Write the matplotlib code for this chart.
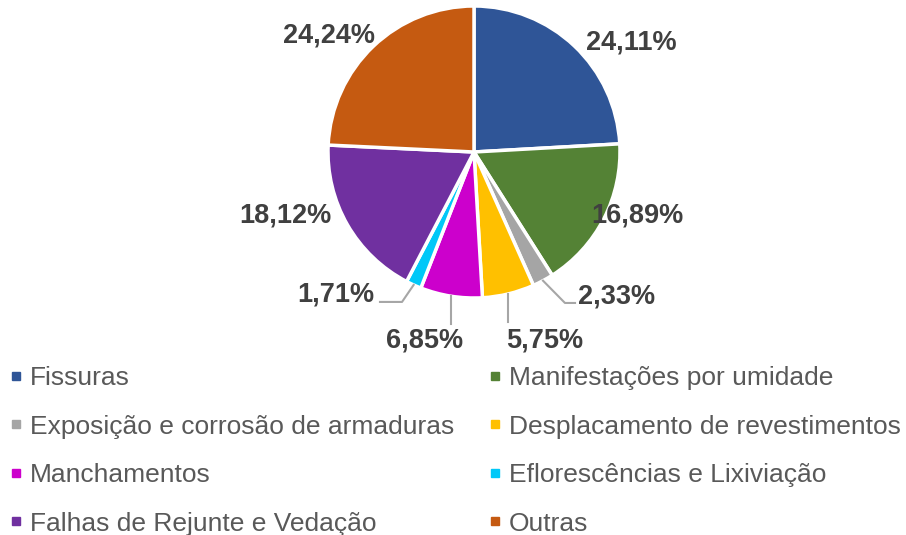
import matplotlib
matplotlib.use('Agg')
import matplotlib.pyplot as plt
from matplotlib.lines import Line2D
import numpy as np

plt.rcParams['font.family'] = ['Liberation Sans', 'DejaVu Sans']

# dados
categorias = ['Fissuras', 'Manifestações por umidade', 'Exposição e corrosão de armaduras',
              'Desplacamento de revestimentos', 'Manchamentos', 'Eflorescências e Lixiviação',
              'Falhas de Rejunte e Vedação', 'Outras']
valores = [24.11, 16.89, 2.33, 5.75, 6.85, 1.71, 18.12, 24.24]
cores = ['#2F5597', '#548235', '#A5A5A5', '#FFC000', '#CC00CC', '#00C8F8', '#7030A0', '#C55A11']

# posição dos rótulos (unidades do raio) e pontas das linhas de chamada
pos_rotulos = [(1.075, 0.753), (1.116, -0.432), (0.979, -0.993), (0.486, -1.288),
               (-0.342, -1.288), (-0.945, -0.979), (-1.295, -0.432), (-0.993, 0.801)]
chamadas = {2: [(0.623, -1.034), (0.692, -1.034)],
            3: [(None, -1.164)],
            4: [(None, -1.178)],
            5: [(-0.493, -1.027), (-0.644, -1.027)]}

W, H = 906, 535
fig = plt.figure(figsize=(W / 100, H / 100), dpi=100)
cx, cy, r = 474, 152, 146
ax = fig.add_axes([(cx - r) / W, (H - cy - r) / H, 2 * r / W, 2 * r / H])
ax.pie(valores, colors=cores, startangle=90, counterclock=False, radius=1,
       wedgeprops=dict(edgecolor='white', linewidth=2.5))
ax.set_xlim(-1, 1)
ax.set_ylim(-1, 1)
ax.set_aspect('equal')
ax.axis('off')

tot = sum(valores)
acum = np.cumsum([0] + valores[:-1])
for i, v in enumerate(valores):
    txt = f'{v:.2f}%'.replace('.', ',')
    x, y = pos_rotulos[i]
    ax.text(x, y, txt, ha='center', va='center', fontsize=19.5, fontweight='bold',
            color='#404040', clip_on=False)
    if i in chamadas:
        ang = np.deg2rad(90 - (acum[i] + v / 2) / tot * 360)
        x0, y0 = np.cos(ang), np.sin(ang)
        xs, ys = [x0], [y0]
        for px, py in chamadas[i]:
            xs.append(x0 if px is None else px)
            ys.append(py)
        ax.plot(xs, ys, color='#A6A6A6', lw=1.5, clip_on=False)

# legenda em duas colunas (ordem por linha)
ordem = [0, 2, 4, 6, 1, 3, 5, 7]
handles = [Line2D([], [], marker='s', linestyle='none', markersize=6,
                  markerfacecolor=cores[k], markeredgecolor=cores[k]) for k in ordem]
labels = [categorias[k] for k in ordem]
fig.legend(handles, labels, ncol=2, loc='upper left',
           bbox_to_anchor=(9.4 / W, 1 - 366 / H),
           frameon=False, fontsize=19, labelcolor='#595959', handlelength=0.5,
           handletextpad=0.28, columnspacing=1.3, labelspacing=0.93, borderaxespad=0,
           borderpad=0)

fig.savefig('out.png', dpi=100)
